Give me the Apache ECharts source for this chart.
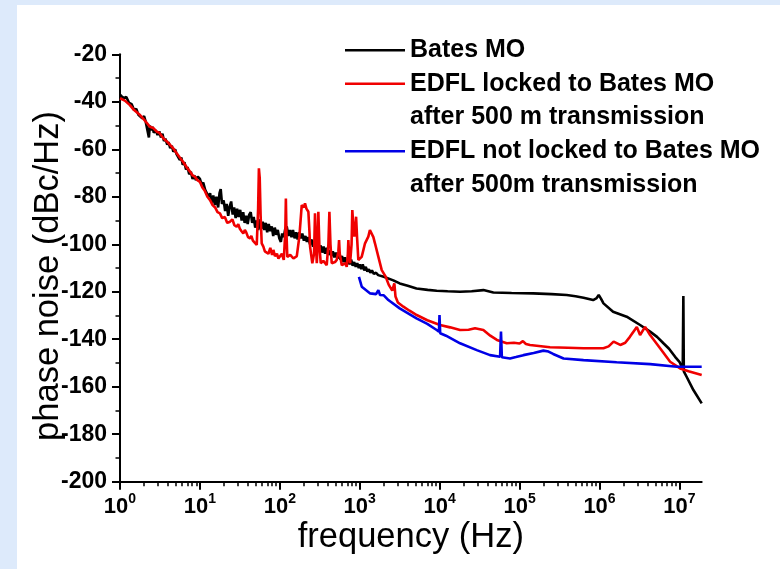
<!DOCTYPE html>
<html>
<head>
<meta charset="utf-8">
<script src="https://cdn.jsdelivr.net/npm/echarts@6/dist/echarts.min.js"></script>
<style>
html,body{margin:0;padding:0;background:#ddeafb;}
#chart{width:780px;height:569px;}
</style>
</head>
<body>
<div id="chart"></div>
<script>
// ---- data ----
const seriesNames = ['Bates MO', 'EDFL locked to Bates MO\nafter 500 m transmission', 'EDFL not locked to Bates MO\nafter 500m transmission'];

const blackFreq = [1,1.1,1.2,1.3,1.4,1.5,1.6,1.7,1.8,1.9,2.0,2.1,2.2,2.3,2.36,2.45,2.55,2.65,2.8,2.95,3.1,3.25,3.4,3.55,3.7,3.9,4.05,4.25,4.45,4.65,4.9,5.1,5.35,5.6,5.85,6.1,6.4,6.7,7.0,7.35,7.7,8.1,8.5,8.9,9.4,10,10.5,11,11.6,12.2,12.8,13.4,14,14.7,15.4,16.1,16.9,17.6,18.2,18.9,19.8,20.7,21.6,22.6,23.6,24.6,25.7,26.8,28,29.2,30.5,31.9,33.3,34.8,36.3,38,39.6,41.4,43.2,45.1,47.1,49.2,51.4,53.7,56,58.5,61,63.8,66.6,69.5,72.6,75.8,79.2,82.7,86.4,90.2,94.2,98.4,103,107,112,117,122,128,134,140,146,153,160,167,175,183,191,200,209,218,228,238,249,260,272,284,297,310,324,338,353,369,386,403,421,440,460,481,502,525,549,573,599,626,654,684,714,746,780,815,852,890,930,972,1000,1045,1090,1140,1190,1245,1300,1360,1420,1500,1600,1700,1800,1995,2630,3162,3981,5129,7079,9183,12589,17989,25119,35237,46989,79433,147911,251189,389045,501187,630957,831764,912011,977237,1047129,1122018,1479108,2187762,3221069,4295364,5248075,6309573,7413102,8830799,10000000,11000000,11200000,11350000,12300000,14960000,19000000];
const blackDb = [-37,-38.5,-38,-40.5,-41,-43.5,-43,-45.5,-45,-47,-46,-48.5,-48,-55,-50,-52,-50.5,-53,-52,-54,-52.5,-55,-53.5,-56.5,-55.5,-58,-57,-59.5,-58.5,-61,-60,-62,-61.5,-64.5,-63.5,-66.5,-65.5,-68.5,-67.5,-70.5,-69.5,-72.5,-71,-73,-71.5,-72.5,-75,-74,-77,-76.5,-80,-78.5,-82.5,-79.5,-83.5,-80,-84.5,-78.5,-76.8,-83,-81.5,-86,-83,-88,-84,-82,-87.5,-84.5,-89,-85,-88.5,-85.5,-90,-86.5,-91,-88,-91.5,-87.5,-86.5,-91,-88.5,-93,-90,-94,-89.5,-93.5,-90.5,-94,-91,-95,-91.5,-94.5,-92.5,-96.5,-93,-96,-94,-97.5,-99,-95.5,-97,-93.5,-92.5,-96.5,-94,-97,-94,-97.5,-95,-98,-95,-97.5,-95.5,-98.5,-96.5,-99,-97,-100,-98,-101,-99,-102,-100,-102.5,-100.5,-103.5,-101,-104,-101.5,-104.5,-102.5,-105,-103,-105.5,-103.5,-106,-104,-106.5,-105,-107.5,-105.5,-108,-106.5,-108.5,-106.5,-109,-107.5,-109.5,-108,-110,-108.5,-110.5,-108.5,-111,-109.5,-111.5,-110.5,-112,-111,-112.5,-112,-113,-112.5,-113.7,-115.2,-116.5,-117.5,-118.6,-119.2,-119.6,-119.8,-120,-119.8,-119.3,-120.3,-120.5,-120.7,-121,-121.4,-121.9,-122.5,-123.5,-122.8,-121.4,-123,-124.9,-128.4,-130.5,-134,-136.8,-139,-141.7,-144,-147.4,-149.5,-152.5,-121.8,-153.5,-155.8,-161.4,-167];

const redFreq = [1,1.15,1.33,1.5,1.78,2.0,2.37,2.6,2.88,3.1,3.48,3.8,4.2,4.6,5.12,5.6,6.2,6.8,7.52,8.1,8.6,9.3,10,10.7,11.5,12.4,13.4,14.4,15.5,16.6,17.8,19,20.5,22,23.8,25.5,27,28.8,30.2,31.6,33.2,34.9,36.5,38,40,42.4,44,46,48.5,51.4,53.5,54.7,56,57.5,59.3,62.2,65,68.5,72,76,80,83,87,92,96,100.7,106,112,117,119,121,124,135,148,163,172,175.5,188,200,206.5,215,227.5,235,239,255,268,275.4,283,290,297,303.4,312,325,350,386,405,417,430,446,490,515,540,551,562,596,660,687,710,720,735,757,790,807,830,855,880,900,925,960,1000,1057,1100,1164,1230,1280,1340,1413,1480,1550,1710,1884,2100,2300,2550,2710,2800,3000,3515,4200,5160,7000,10100,13500,18000,23000,27700,35200,43000,52000,69000,85000,100000,110000,120000,135000,240000,400000,630000,1120000,1300000,1500000,1820000,2100000,2400000,2930000,3220000,3720000,4300000,5730000,7650000,10200000,13000000,19000000];
const redDb = [-38.5,-39.5,-41.4,-43.5,-45.6,-47.5,-50.5,-51,-52.6,-53,-55.4,-56.5,-58,-59.5,-61.7,-63.5,-65.5,-67.5,-69.4,-71,-71.5,-73,-73.7,-76,-77.5,-80,-81.4,-83.5,-84.5,-86.5,-87,-89,-88.5,-91,-90.5,-89.5,-92,-92.6,-91.5,-93.5,-94.5,-95.4,-94,-95,-97,-97.5,-96.5,-98.5,-99,-100.3,-85,-68,-72,-88,-99.6,-101,-103,-102.4,-104,-101.5,-104.5,-102.4,-105,-104,-106,-105.3,-104,-106.6,-95,-80.7,-95,-105.3,-104.5,-106,-105,-99,-96.8,-83.5,-84.5,-82.8,-85,-86.3,-95,-101,-108,-104,-87,-100,-108,-100,-86.3,-100,-108,-107,-108.8,-100,-86.3,-100,-108,-107.5,-106.6,-103,-98.2,-104,-108.8,-108,-109.5,-104,-98.2,-104,-108,-100,-85.6,-92,-96.8,-93,-88.4,-97,-106.6,-106,-105.3,-103,-99.6,-99,-96.8,-94,-94.7,-97,-99.6,-105.3,-110.9,-113.5,-117,-119.5,-116.5,-122,-124.5,-126.3,-128,-129.8,-132,-134,-135,-136.1,-136,-135.4,-136.1,-138.5,-140.3,-141.7,-141.5,-141.8,-140.8,-142,-142.4,-143.4,-143.6,-143.8,-143.8,-143,-141,-142.4,-141.5,-139,-134.8,-138.2,-134.8,-138.2,-143.8,-149.5,-152.3,-153.5,-155.1];

const blueFreq = [977,1060,1350,1600,1710,1795,2000,2075,2280,3162,5130,7000,9180,9800,9950,10150,12000,18000,29100,42700,57000,58500,60000,75900,90000,111700,150000,198600,230000,263000,355000,631000,1640000,4300000,9290000,19000000];
const blueDb = [-113.7,-117.9,-120.7,-121,-119.3,-121.4,-121.5,-120.7,-123.5,-127,-131.2,-133.5,-136.1,-136.8,-129.8,-137.5,-138.5,-141.7,-144.6,-146.7,-147.4,-136.8,-147.6,-148.1,-147.5,-146.7,-145.8,-144.8,-145.2,-146.2,-148.1,-148.8,-149.7,-150.5,-151.6,-151.6];

const xMin = 1, xMax = 1.9e7;
const yMin = -200, yMax = -20, yStep = 20;
const minorXTicks = [];
for (let e = 0; e <= 6; e++) for (let m = 2; m <= 9; m++) minorXTicks.push(m * Math.pow(10, e));

// ---- chart ----
const FONT = 'Liberation Sans, Arial, sans-serif';
const colors = ['#000000', '#f00000', '#0000e6'];
const chart = echarts.init(document.getElementById('chart'));

function pairs(fs, vs) { return fs.map((f, i) => [f, vs[i]]); }

function legendFor(i, top) {
  return {
    data: [{ name: seriesNames[i] }],
    left: 345, top: top, padding: 0,
    orient: 'vertical',
    icon: 'rect', itemWidth: 60, itemHeight: 2.5,
    selectedMode: false,
    formatter: function (n) { return n.indexOf('\n') >= 0 ? '\n' + n : n; },
    textStyle: { fontFamily: FONT, fontSize: 25, fontWeight: 'bold', color: '#000', lineHeight: 33.5 }
  };
}

chart.setOption({
  animation: false,
  backgroundColor: '#ddeafb',
  graphic: [{ type: 'rect', silent: true, z: -100, shape: { x: 17, y: 5, width: 780, height: 580 }, style: { fill: '#ffffff' } }],
  grid: { left: 120, top: 54.3, right: 78.3, bottom: 87.3, containLabel: false },
  legend: [legendFor(0, 33.5), legendFor(1, 33.5), legendFor(2, 101)],
  xAxis: [{
    type: 'log', logBase: 10, min: xMin, max: xMax, interval: 1,
    name: 'frequency (Hz)', nameLocation: 'middle', nameGap: 38, nameMoveOverlap: false,
    nameTextStyle: { fontFamily: FONT, fontSize: 34.5, color: '#000' },
    axisLine: { show: true, lineStyle: { color: '#000', width: 2 } },
    axisTick: { show: true, inside: false, length: 8, lineStyle: { color: '#000', width: 2 } },
    axisLabel: {
      margin: 10, showMaxLabel: false,
      formatter: function (v) {
        const e = Math.round(Math.log10(v));
        if (Math.abs(v - Math.pow(10, e)) > 1e-6 * v) return '';
        return '{b|10}{s|' + e + '}';
      },
      rich: {
        b: { fontFamily: FONT, fontSize: 22, fontWeight: 'bold', color: '#000', lineHeight: 26, verticalAlign: 'bottom' },
        s: { fontFamily: FONT, fontSize: 14, fontWeight: 'bold', color: '#000', lineHeight: 26, verticalAlign: 'top' }
      }
    },
    splitLine: { show: false }
  }, {
    type: 'log', logBase: 10, min: xMin, max: xMax, gridIndex: 0, position: 'bottom',
    axisLine: { show: false },
    axisTick: { show: true, inside: false, length: 4.5, customValues: minorXTicks, lineStyle: { color: '#000', width: 1.5 } },
    axisLabel: { show: false },
    splitLine: { show: false }
  }],
  yAxis: {
    type: 'value', min: yMin, max: yMax, interval: yStep,
    name: 'phase noise (dBc/Hz)', nameLocation: 'middle', nameGap: 54, nameMoveOverlap: false,
    nameTextStyle: { fontFamily: FONT, fontSize: 34.5, color: '#000', padding: [0, 16, 0, 0] },
    axisLine: { show: true, lineStyle: { color: '#000', width: 2 } },
    axisTick: { show: true, inside: false, length: 8, lineStyle: { color: '#000', width: 2 } },
    minorTick: { show: true, splitNumber: 2, length: 4.5, lineStyle: { color: '#000', width: 1.5 } },
    axisLabel: { margin: 13, fontFamily: FONT, fontSize: 23, fontWeight: 'bold', color: '#000' },
    splitLine: { show: false }
  },
  series: [
    { name: seriesNames[0], type: 'line', symbol: 'none', data: pairs(blackFreq, blackDb), lineStyle: { color: colors[0], width: 2.6 }, itemStyle: { color: colors[0] }, z: 2 },
    { name: seriesNames[1], type: 'line', symbol: 'none', data: pairs(redFreq, redDb), lineStyle: { color: colors[1], width: 2.6 }, itemStyle: { color: colors[1] }, z: 3 },
    { name: seriesNames[2], type: 'line', symbol: 'none', data: pairs(blueFreq, blueDb), lineStyle: { color: colors[2], width: 2.6 }, itemStyle: { color: colors[2] }, z: 4 }
  ]
});
</script>
</body>
</html>
